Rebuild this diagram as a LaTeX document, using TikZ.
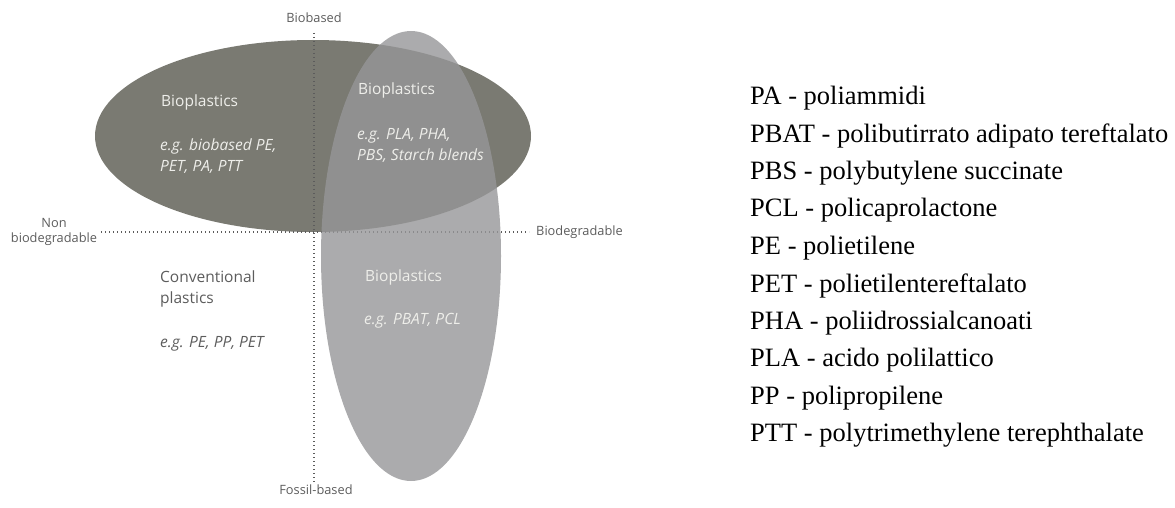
\documentclass[tikz,border=0pt]{standalone}
\usepackage{fontspec}
\setmainfont{Liberation Serif}
\newfontfamily\diagfont{Open Sans}
\usepackage{tikz}
\usetikzlibrary{positioning}
\definecolor{grigioScuro}{RGB}{122,122,114}
\definecolor{grigioChiaro}{RGB}{150,150,152}
\definecolor{grigioTesto}{RGB}{92,92,92}
\definecolor{bianco}{RGB}{238,238,234}
\tikzstyle{asse}  =[grigioTesto, line width=1.2pt,
                    dash pattern=on 1.1pt off 2.9pt]
\tikzstyle{etichetta}=[font=\diagfont\fontsize{12.8}{15.5}\selectfont,
                    text=grigioTesto, inner sep=0pt]
\tikzstyle{testo}=[font=\diagfont\fontsize{15.5}{21}\selectfont,
                    anchor=west, align=left, inner sep=0pt]
\tikzstyle{voce}  =[font=\fontsize{26.5}{30}\selectfont,
                    anchor=west, inner sep=0pt]

\begin{document}
\begin{tikzpicture}[x=1pt, y=-1pt]
    \useasboundingbox (0,0) rectangle (1175,508);

        % ellisse dei biobased
        \fill[grigioScuro] (313,136) ellipse [x radius=218pt, y radius=96pt];

        % assi
        \coordinate (alto) at (314,33);
        \coordinate (basso) at (314,483);
        \coordinate (sinistra) at (101,232);
        \coordinate (destra) at (529,232);
        \draw [asse] (alto) to (basso);
        \draw [asse] (sinistra) to (destra);

        % ellisse dei biodegradabili
        \fill[grigioChiaro, opacity=0.8] (411,256) ellipse [x radius=90pt, y radius=225pt];

        \node (biobased) [etichetta] at (314,18) {Biobased};
        \node (fossil) [etichetta] at (316,490) {Fossil-based};
        \node (nonbio) [etichetta, align=center] at (54,232) {Non\\biodegradable};
        \node (biodeg) [etichetta, anchor=west] at (536,232) {Biodegradable};

        \node (bioA) [testo, text=bianco] at (161,102) {Bioplastics};
        \node (esA) [testo, text=bianco] at (160,156) {\itshape e.g. biobased PE,\\\itshape PET, PA, PTT};
        \node (bioB) [testo, text=bianco] at (358,90) {Bioplastics};
        \node (esB) [testo, text=bianco] at (357,145) {\itshape e.g. PLA, PHA,\\\itshape PBS, Starch blends};
        \node (conv) [testo, text=grigioTesto] at (160,289) {Conventional\\plastics};
        \node (esC) [testo, text=grigioTesto] at (160,344) {\itshape e.g. PE, PP, PET};
        \node (bioC) [testo, text=bianco] at (365,277) {Bioplastics};
        \node (esD) [testo, text=bianco] at (364,321) {\itshape e.g. PBAT, PCL};

        % legenda
        \foreach \sigla/\nome [count=\i from 0] in {PA/poliammidi,
                PBAT/polibutirrato adipato tereftalato,
                PBS/polybutylene succinate, PCL/policaprolactone,
                PE/polietilene, PET/polietilentereftalato,
                PHA/poliidrossialcanoati, PLA/acido polilattico,
                PP/polipropilene, PTT/polytrimethylene terephthalate}
            \node (leg\i) [voce] at (750,{98+37.5*\i}) {\sigla{} - \nome};

\end{tikzpicture}
\end{document}
